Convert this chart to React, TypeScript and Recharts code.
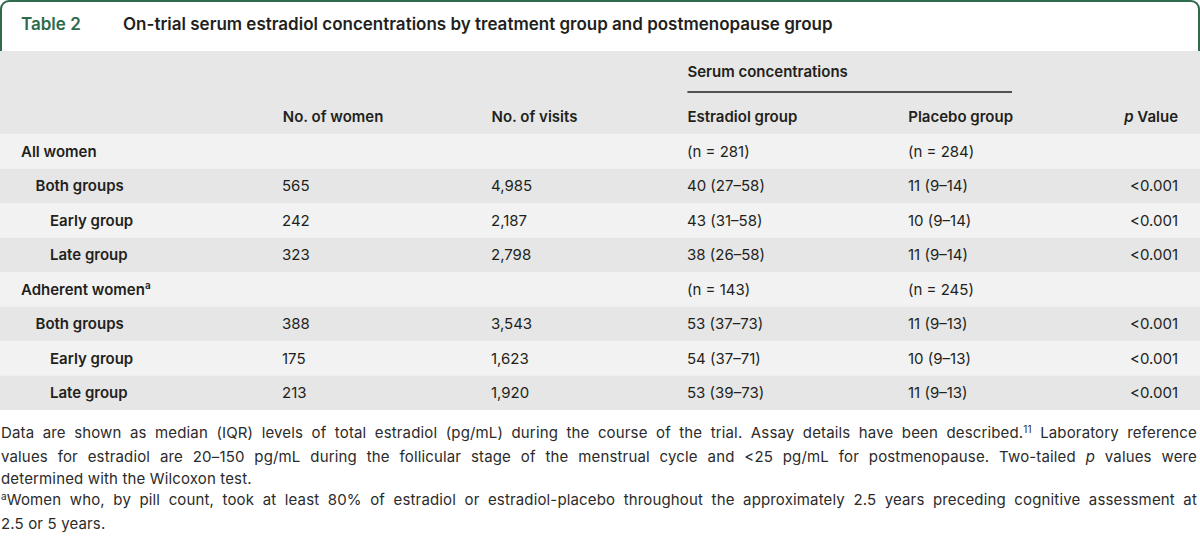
import { Bar, ComposedChart, XAxis, YAxis } from "recharts";

// table rows
const rowLabels = [
  "All women",
  "Both groups",
  "Early group",
  "Late group",
  "Adherent women",
  "Both groups",
  "Early group",
  "Late group",
];
const rowDepth = [0, 1, 2, 2, 0, 1, 2, 2];
const rowNotes = ["", "", "", "", "a", "", "", ""];
const womenCounts = [null, 565, 242, 323, null, 388, 175, 213];
const visitCounts = [null, 4985, 2187, 2798, null, 3543, 1623, 1920];
const estradiolValues = [
  "(n = 281)",
  "40 (27–58)",
  "43 (31–58)",
  "38 (26–58)",
  "(n = 143)",
  "53 (37–73)",
  "54 (37–71)",
  "53 (39–73)",
];
const placeboValues = [
  "(n = 284)",
  "11 (9–14)",
  "10 (9–14)",
  "11 (9–14)",
  "(n = 245)",
  "11 (9–13)",
  "10 (9–13)",
  "11 (9–13)",
];
const pValues = ["", "<0.001", "<0.001", "<0.001", "", "<0.001", "<0.001", "<0.001"];

const columnKeys = ["women", "visits", "estradiol", "placebo", "p"];
const columnHeaders = ["No. of women", "No. of visits", "Estradiol group", "Placebo group", "Value"];
const spanHeader = "Serum concentrations";

const rows = rowLabels.map((label, i) => ({
  id: `row${i}`,
  label,
  depth: rowDepth[i],
  note: rowNotes[i],
  women: womenCounts[i],
  visits: visitCounts[i],
  estradiol: estradiolValues[i],
  placebo: placeboValues[i],
  p: pValues[i],
}));

// layout
const COL_X: Record<string, number> = { women: 282, visits: 491, estradiol: 687, placebo: 908, p: 1178 };
const SPAN_END = 1012;
const HEADER_H = 83;
const ROW_H = 34.5;
const FONT = "Inter, sans-serif";
const INK = "#231f20";
const GREEN = "#2e6b4c";

const fmt = (n: number | null) => (n == null ? "" : n.toLocaleString("en-US"));

const HeaderTick = (props: any) => {
  const { x, index } = props;
  const key = columnKeys[index];
  const label = columnHeaders[index];
  const common = { fontFamily: FONT, fontSize: 15, fontWeight: 600, fill: INK };
  if (key === "p") {
    return (
      <text x={x} y={66} dy="0.35em" textAnchor="end" {...common}>
        <tspan fontStyle="italic">p</tspan> {label}
      </text>
    );
  }
  return (
    <g>
      {key === "estradiol" && (
        <g>
          <text x={x} y={21} dy="0.35em" {...common}>
            {spanHeader}
          </text>
          <line x1={x} x2={SPAN_END} y1={41} y2={41} stroke={INK} strokeWidth={1.3} />
        </g>
      )}
      <text x={x} y={66} dy="0.35em" {...common}>
        {label}
      </text>
    </g>
  );
};

const RowTick = (props: any) => {
  const { y, payload } = props;
  const i = rows.findIndex((r) => r.id === payload.value);
  if (i < 0) return <g />;
  const row = rows[i];
  const fill = i % 2 === 0 ? "#f2f2f2" : "#e6e6e6";
  const cell = { fontFamily: FONT, fontSize: 15, fill: INK };
  return (
    <g>
      <rect x={0} y={y - ROW_H / 2} width={1200} height={ROW_H} fill={fill} />
      <text x={21 + row.depth * 14.5} y={y} dy="0.35em" {...cell} fontWeight={600}>
        {row.label}
        {row.note && (
          <tspan dy={-6} fontSize={10}>
            {row.note}
          </tspan>
        )}
      </text>
      <text x={COL_X.women} y={y} dy="0.35em" {...cell}>{fmt(row.women)}</text>
      <text x={COL_X.visits} y={y} dy="0.35em" {...cell}>{fmt(row.visits)}</text>
      <text x={COL_X.estradiol} y={y} dy="0.35em" {...cell}>{row.estradiol}</text>
      <text x={COL_X.placebo} y={y} dy="0.35em" {...cell}>{row.placebo}</text>
      <text x={COL_X.p} y={y} dy="0.35em" textAnchor="end" {...cell}>{row.p}</text>
    </g>
  );
};

const sup = { fontSize: 10, position: "relative" as const, top: -5 };
const justified = { textAlign: "justify" as const, textAlignLast: "justify" as const };

export default function App() {
  return (
    <div style={{ position: "absolute", left: 0, top: 0, width: 1200, height: 537, background: "#fff" }}>
      <div
        style={{
          position: "absolute",
          left: 0,
          top: 0,
          width: 1200,
          height: 51,
          boxSizing: "border-box",
          border: `2px solid ${GREEN}`,
          borderBottom: "none",
          borderRadius: "9px 9px 0 0",
          fontFamily: FONT,
          fontSize: 17,
          fontWeight: 600,
          lineHeight: "20px",
        }}
      >
        <span style={{ position: "absolute", left: 19, top: 12, color: GREEN }}>Table 2</span>
        <span style={{ position: "absolute", left: 121, top: 12, color: INK }}>
          On-trial serum estradiol concentrations by treatment group and postmenopause group
        </span>
      </div>
      <div style={{ position: "absolute", left: 0, top: 51, width: 1200, height: HEADER_H, background: "#e6e7e6" }} />
      <div style={{ position: "absolute", left: 0, top: 51 }}>
        <ComposedChart
          width={1200}
          height={HEADER_H + ROW_H * rows.length}
          layout="vertical"
          data={rows}
          margin={{ top: 0, right: 0, bottom: 0, left: 0 }}
          barCategoryGap={0}
        >
          <XAxis
            type="number"
            orientation="top"
            domain={[0, 1200]}
            height={HEADER_H}
            ticks={columnKeys.map((k) => COL_X[k])}
            interval={0}
            axisLine={false}
            tickLine={false}
            tick={HeaderTick}
          />
          <YAxis
            type="category"
            dataKey="id"
            width={1}
            interval={0}
            axisLine={false}
            tickLine={false}
            tick={RowTick}
          />
          <Bar dataKey="women" fill="none" isAnimationActive={false} />
        </ComposedChart>
      </div>
      <div
        style={{
          position: "absolute",
          left: 1,
          top: 422,
          width: 1196,
          fontFamily: FONT,
          fontSize: 15,
          letterSpacing: 0.15,
          lineHeight: "21.75px",
          color: "#2b2b2b",
        }}
      >
        <div style={justified}>
          Data are shown as median (IQR) levels of total estradiol (pg/mL) during the course of the trial. Assay
          details have been described.<span style={sup}>11</span> Laboratory reference
        </div>
        <div style={justified}>
          values for estradiol are 20–150 pg/mL during the follicular stage of the menstrual cycle and &lt;25 pg/mL
          for postmenopause. Two-tailed <i>p</i> values were
        </div>
        <div>determined with the Wilcoxon test.</div>
        <div style={justified}>
          <span style={sup}>a</span>Women who, by pill count, took at least 80% of estradiol or estradiol-placebo
          throughout the approximately 2.5 years preceding cognitive assessment at
        </div>
        <div>2.5 or 5 years.</div>
      </div>
    </div>
  );
}
